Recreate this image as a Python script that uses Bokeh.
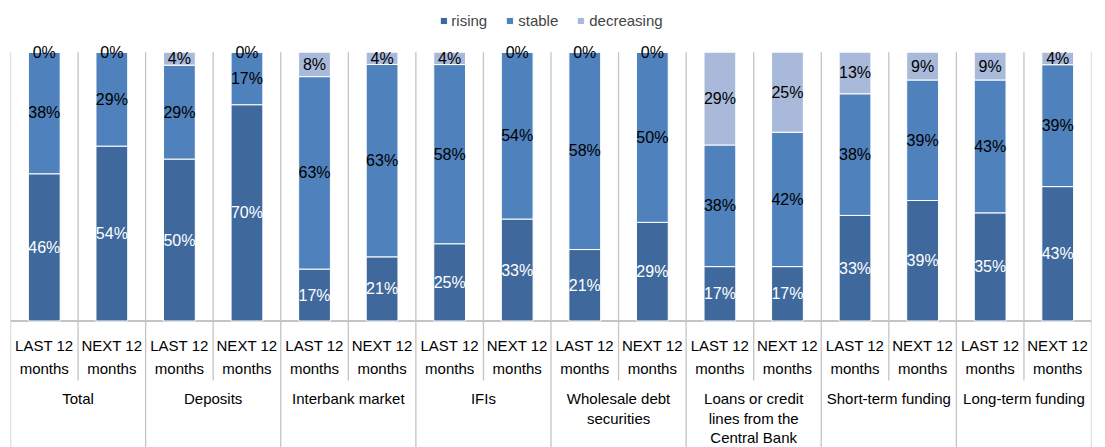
import numpy as np
from bokeh.plotting import figure
from bokeh.models import ColumnDataSource, Range1d, Legend, LegendItem
from bokeh.core.properties import value
from bokeh.embed import file_html
from bokeh.resources import INLINE

# ---- data ----
groups = ["Total", "Deposits", "Interbank market", "IFIs",
          "Wholesale debt\nsecurities", "Loans or credit\nlines from the\nCentral Bank",
          "Short-term funding", "Long-term funding"]
periods = ["LAST 12\nmonths", "NEXT 12\nmonths"]
series = ["rising", "stable", "decreasing"]
rising = [46, 54, 50, 70, 17, 21, 25, 33, 21, 29, 17, 17, 33, 39, 35, 43]
stable = [38, 29, 29, 17, 63, 63, 58, 54, 58, 50, 38, 42, 38, 39, 43, 39]
decreasing = [0, 0, 4, 0, 8, 4, 4, 0, 0, 0, 29, 25, 13, 9, 9, 4]
colors = ["#3F699C", "#4F81BD", "#A9B9DA"]
label_colors = ["white", "black", "black"]

FONT = "Liberation Sans"
n = len(groups) * len(periods)
x = np.arange(n) + 0.5
vals = np.array([rising, stable, decreasing], dtype=float)
tot = vals.sum(axis=0)
norm = vals / tot

src = ColumnDataSource(dict(x=x, rising=norm[0], stable=norm[1], decreasing=norm[2]))

p = figure(width=1100, height=447, x_range=Range1d(0, n), y_range=Range1d(-0.4706, 1.1923),
           min_border_left=10, min_border_right=9, min_border_top=0, min_border_bottom=0,
           x_axis_location=None, y_axis_location=None, toolbar_location=None,
           output_backend="svg", outline_line_color=None)
p.xgrid.visible = False
p.ygrid.visible = False

grid_col = "#C4C4C4"
# vertical grid lines in plot area
bx = np.arange(n + 1)
p.segment(x0=bx, y0=np.zeros(n + 1), x1=bx, y1=np.ones(n + 1), line_color=grid_col, line_width=1.3)
# separators under axis
sub_b = bx[1::2]
p.segment(x0=sub_b, y0=np.zeros(len(sub_b)), x1=sub_b, y1=np.full(len(sub_b), -0.221),
          line_color=grid_col, line_width=1.3)
grp_b = bx[0::2]
p.segment(x0=grp_b, y0=np.zeros(len(grp_b)), x1=grp_b, y1=np.full(len(grp_b), -0.6),
          line_color=grid_col, line_width=1.3)
# axis line
p.segment(x0=[0], y0=[0], x1=[n], y1=[0], line_color=grid_col, line_width=2)

rs = p.vbar_stack(series, x="x", width=0.47, color=colors, line_color="white",
                  line_width=1, source=src)

# value labels
lx, ly, lt, lc = [], [], [], []
bottom = np.zeros(n)
for k in range(3):
    for i in range(n):
        lx.append(x[i])
        ly.append(bottom[i] + norm[k][i] / 2)
        lt.append(f"{int(vals[k][i])}%")
        lc.append(label_colors[k])
    bottom = bottom + norm[k]
p.text(x=lx, y=ly, text=lt, text_color=lc, text_font=value(FONT), text_font_size="16px",
       text_align="center", text_baseline="middle")

# category labels
sub_text = [periods[i % 2] for i in range(n)]
p.text(x=x, y=np.full(n, -0.1346), text=sub_text, text_font=value(FONT), text_font_size="15px",
       text_align="center", text_baseline="middle", text_line_height=1.35, text_color="black")
gx = np.arange(len(groups)) * 2 + 1.0
p.text(x=gx, y=np.full(len(groups), -0.2567), text=groups, text_font=value(FONT),
       text_font_size="15px", text_align="center", text_baseline="top",
       text_line_height=1.16, text_color="black")

legend = Legend(items=[LegendItem(label=s, renderers=[r]) for s, r in zip(series, rs)],
                orientation="horizontal", location="top_center", margin=10, padding=0,
                border_line_color=None, background_fill_alpha=0,
                label_text_font=FONT, label_text_font_size="15px",
                glyph_width=9, glyph_height=9, label_standoff=4, spacing=18, label_height=20)
p.add_layout(legend)

open("out.html", "w").write(file_html(p, INLINE))
